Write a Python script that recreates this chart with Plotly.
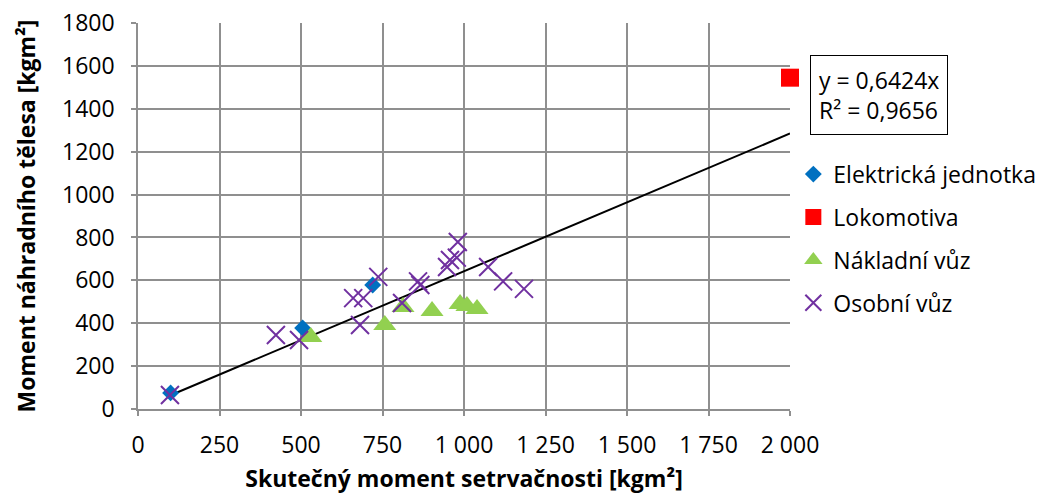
import plotly.graph_objects as go

# Skutečný moment setrvačnosti [kgm²] (x) vs. moment náhradního tělesa [kgm²] (y)
elektricka_x = [100, 505, 720]
elektricka_y = [75, 378, 578]

lokomotiva_x = [2000]
lokomotiva_y = [1545]

nakladni_x = [530, 757, 813, 902, 988, 1009, 1040]
nakladni_y = [336, 392, 476, 457, 490, 480, 466]

osobni_x = [98, 423, 494, 660, 691, 681, 737, 810, 859, 866, 948, 957, 978, 981, 1074, 1120, 1184]
osobni_y = [65, 345, 322, 517, 517, 392, 616, 494, 595, 578, 662, 695, 706, 779, 662, 595, 560]

# Lineární regrese procházející počátkem
slope = 0.6424
r_squared = 0.9656

x_ticks = [0, 250, 500, 750, 1000, 1250, 1500, 1750, 2000]
y_ticks = [0, 200, 400, 600, 800, 1000, 1200, 1400, 1600, 1800]

FONT = "Open Sans"
FS = 23
GRID = "#8f8f8f"

fig = go.Figure()

all_x = elektricka_x + lokomotiva_x + nakladni_x + osobni_x
x_lo, x_hi = min(all_x), max(all_x)
fig.add_trace(go.Scatter(
    x=[x_lo, x_hi], y=[slope * x_lo, slope * x_hi],
    mode="lines", line=dict(color="black", width=2),
    showlegend=False, hoverinfo="skip",
))

fig.add_trace(go.Scatter(
    x=elektricka_x, y=elektricka_y, mode="markers", name="Elektrická jednotka",
    legendgroup="a", cliponaxis=False,
    marker=dict(symbol="diamond", size=13, color="#0070C0"),
))
fig.add_trace(go.Scatter(
    x=lokomotiva_x, y=lokomotiva_y, mode="markers", name="Lokomotiva",
    legendgroup="b", cliponaxis=False,
    marker=dict(symbol="square", size=18, color="#FF0000"),
))
fig.add_trace(go.Scatter(
    x=nakladni_x, y=nakladni_y, mode="markers", name="Nákladní vůz",
    legendgroup="c", cliponaxis=False,
    marker=dict(symbol="triangle-up", size=20, color="#92D050"),
))
fig.add_trace(go.Scatter(
    x=osobni_x, y=osobni_y, mode="markers", name="Osobní vůz",
    legendgroup="d", cliponaxis=False,
    marker=dict(symbol="x-thin-open", size=18, color="#7030A0",
                line=dict(color="#7030A0", width=2)),
))

fig.add_annotation(
    xref="paper", yref="paper", x=1.031, y=0.813, xanchor="left", yanchor="middle",
    text=f"y = {str(slope).replace('.', ',')}x<br>R² = {str(r_squared).replace('.', ',')}",
    showarrow=False, align="left",
    font=dict(family=FONT, size=FS, color="black"),
    bordercolor="black", borderwidth=1, borderpad=8, bgcolor="white",
)

fig.update_layout(
    width=1048, height=494,
    margin=dict(l=138, r=258, t=23, b=85),
    paper_bgcolor="white", plot_bgcolor="white",
    separators=", ",
    font=dict(family=FONT, size=FS, color="black"),
    legend=dict(
        xref="container", yref="container",
        x=0.757, y=0.691, xanchor="left", yanchor="top",
        font=dict(family=FONT, size=FS, color="black"),
        tracegroupgap=10, itemwidth=30, bgcolor="rgba(0,0,0,0)",
    ),
    xaxis=dict(
        range=[0, 2000], tickvals=x_ticks, separatethousands=True, tickformat=",d",
        showgrid=True, gridcolor=GRID, gridwidth=1.5,
        showline=True, linecolor=GRID, linewidth=1.5,
        ticks="outside", ticklen=5, tickcolor=GRID, tickwidth=1.5,
        ticklabelstandoff=10, zeroline=False, automargin=False,
        title=dict(text="<b>Skutečný moment setrvačnosti [kgm²]</b>",
                   font=dict(family=FONT, size=FS), standoff=12),
    ),
    yaxis=dict(
        range=[0, 1800], tickvals=y_ticks, tickformat="d",
        showgrid=True, gridcolor=GRID, gridwidth=1.5,
        showline=True, linecolor=GRID, linewidth=1.5,
        ticks="outside", ticklen=5, tickcolor=GRID, tickwidth=1.5,
        ticklabelstandoff=12, zeroline=False, automargin=False,
        title=dict(text="<b>Moment náhradního tělesa [kgm²]</b>",
                   font=dict(family=FONT, size=FS), standoff=20),
    ),
)

fig.write_html("out.html")
